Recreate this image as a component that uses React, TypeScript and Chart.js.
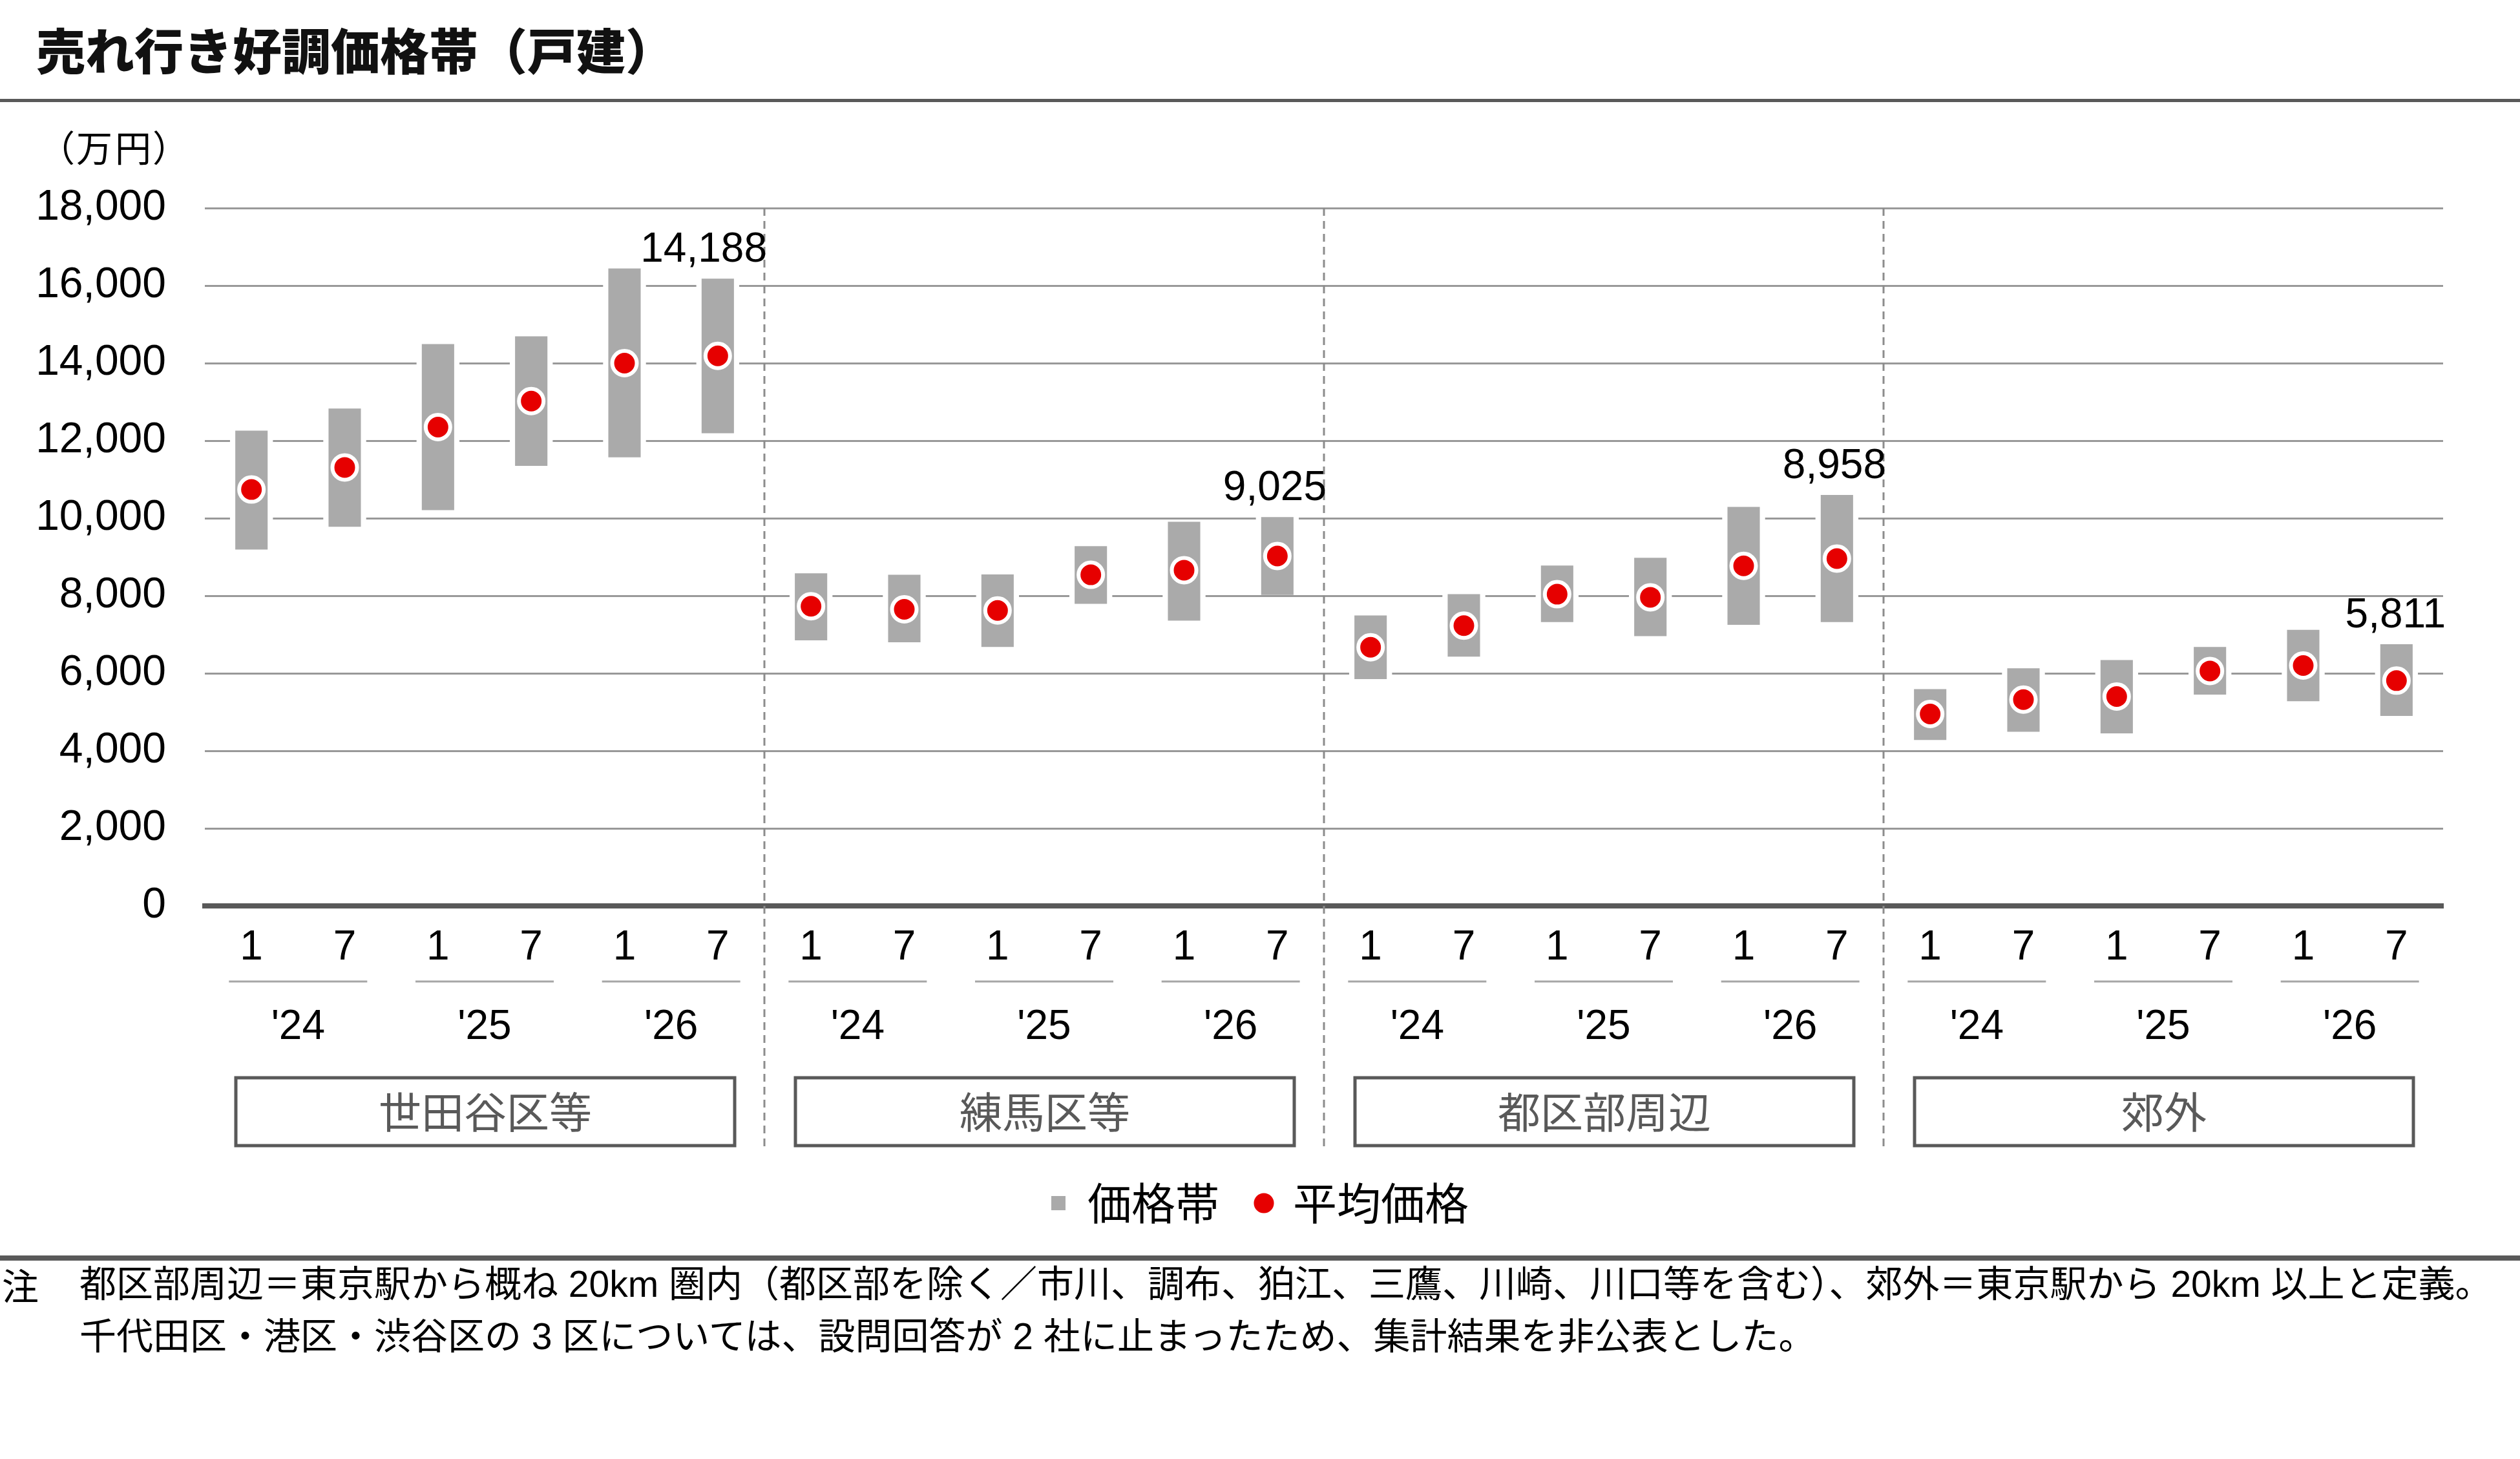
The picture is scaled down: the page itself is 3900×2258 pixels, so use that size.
import React, { useEffect, useRef } from 'react';
import { Chart, registerables } from 'chart.js';

Chart.register(...registerables);

// 半期ごとのカテゴリ(1月・7月)
const months = [
  '1', '7', '1', '7', '1', '7',
  '1', '7', '1', '7', '1', '7',
  '1', '7', '1', '7', '1', '7',
  '1', '7', '1', '7', '1', '7',
];
const yearLabels = ["'24", "'25", "'26"];
const groupLabels = ['世田谷区等', '練馬区等', '都区部周辺', '郊外'];

// 価格帯 (万円)
const priceLow = [
  9190, 9780, 10210, 11350, 11570, 12190,
  6850, 6800, 6680, 7790, 7360, 8020,
  5850, 6430, 7320, 6960, 7250, 7320,
  4280, 4490, 4450, 5450, 5280, 4900,
];
const priceHigh = [
  12260, 12830, 14490, 14690, 16440, 16180,
  8580, 8540, 8550, 9280, 9910, 10030,
  7490, 8040, 8780, 8980, 10290, 10600,
  5590, 6130, 6340, 6680, 7120, 6750,
];
// 平均価格 (万円)
const avgPrice = [
  10740, 11310, 12350, 13020, 14000, 14188,
  7730, 7650, 7620, 8540, 8660, 9025,
  6670, 7230, 8040, 7960, 8770, 8958,
  4950, 5320, 5400, 6060, 6200, 5811,
];

const LATIN = "'Liberation Sans', Arial, 'Noto Sans CJK JP', sans-serif";
const CJK = "'Noto Sans CJK JP', 'Liberation Sans', sans-serif";

const fmt = (v: number) => v.toLocaleString('en-US');

const decorPlugin = {
  id: 'decor',
  afterDraw(chart: Chart) {
    const { ctx, chartArea } = chart;
    const xs = chart.scales.x;
    const ys = chart.scales.y;
    const step = xs.getPixelForValue(1) - xs.getPixelForValue(0);
    const per = months.length / groupLabels.length;
    const base = chartArea.bottom;

    ctx.save();

    // グループ区切りの破線
    ctx.strokeStyle = '#8c8c8c';
    ctx.lineWidth = 3;
    ctx.setLineDash([12, 8]);
    for (let g = 1; g < groupLabels.length; g++) {
      const sx = xs.getPixelForValue(g * per) - step / 2;
      ctx.beginPath();
      ctx.moveTo(sx, chartArea.top);
      ctx.lineTo(sx, base + 378);
      ctx.stroke();
    }
    ctx.setLineDash([]);

    // 年ラベルと下線
    ctx.font = `64px ${LATIN}`;
    ctx.fillStyle = '#000';
    ctx.textAlign = 'center';
    ctx.textBaseline = 'middle';
    for (let p = 0; p < months.length / 2; p++) {
      const cx = (xs.getPixelForValue(2 * p) + xs.getPixelForValue(2 * p + 1)) / 2;
      ctx.strokeStyle = '#a6a6a6';
      ctx.lineWidth = 3;
      ctx.beginPath();
      ctx.moveTo(cx - 107, base + 117);
      ctx.lineTo(cx + 107, base + 117);
      ctx.stroke();
      ctx.fillText(yearLabels[p % yearLabels.length], cx, base + 188);
    }

    // 地域グループの枠
    ctx.font = `66px ${CJK}`;
    for (let g = 0; g < groupLabels.length; g++) {
      const left = xs.getPixelForValue(g * per) - step / 2 + 48;
      const right = xs.getPixelForValue(g * per + per - 1) + step / 2 - 46;
      ctx.strokeStyle = '#595959';
      ctx.lineWidth = 5;
      ctx.strokeRect(left, base + 266, right - left, 105);
      ctx.fillStyle = '#595959';
      ctx.fillText(groupLabels[g], (left + right) / 2, base + 319);
    }

    // 各グループ最新値のラベル
    ctx.font = `64px ${LATIN}`;
    ctx.fillStyle = '#000';
    ctx.textAlign = 'left';
    ctx.textBaseline = 'alphabetic';
    for (let g = 0; g < groupLabels.length; g++) {
      const i = g * per + per - 1;
      const text = fmt(avgPrice[i]);
      const w = ctx.measureText(text).width;
      const cx = xs.getPixelForValue(i);
      const limit = cx + step / 2 + 4;
      const left = Math.min(cx - w / 2, limit - w);
      ctx.fillText(text, left, ys.getPixelForValue(priceHigh[i]) - 26);
    }

    ctx.restore();
  },
};

export default function App() {
  const canvasRef = useRef<HTMLCanvasElement>(null);

  useEffect(() => {
    if (!canvasRef.current) return;
    const ranges = priceLow.map((l, i) => [l, priceHigh[i]]);

    const chart = new Chart(canvasRef.current, {
      type: 'bar',
      data: {
        labels: months,
        datasets: [
          {
            // 目盛線を途切れさせる白い縁
            type: 'bar',
            label: '',
            data: ranges as any,
            backgroundColor: '#ffffff',
            barPercentage: 0.46,
            categoryPercentage: 1,
            grouped: false,
            order: 2,
          },
          {
            type: 'bar',
            label: '価格帯',
            data: ranges as any,
            backgroundColor: '#aaaaaa',
            pointStyle: 'rect',
            barPercentage: 0.347,
            categoryPercentage: 1,
            grouped: false,
            order: 1,
          },
          {
            type: 'line',
            label: '平均価格',
            data: avgPrice,
            showLine: false,
            pointStyle: 'circle',
            pointRadius: 19,
            pointBorderWidth: 6,
            pointBackgroundColor: '#e60000',
            pointBorderColor: '#ffffff',
            backgroundColor: '#e60000',
            borderColor: '#ffffff',
            order: 0,
          },
        ],
      },
      options: {
        responsive: false,
        animation: false,
        locale: 'en-US',
        events: [],
        layout: { padding: { left: 0, right: 0, top: 322, bottom: 352 } },
        plugins: {
          tooltip: { enabled: false },
          legend: {
            position: 'bottom',
            labels: {
              font: { size: 68, family: CJK },
              color: '#000',
              usePointStyle: true,
              boxWidth: 22,
              boxHeight: 22,
              padding: 58,
              sort: (a: any, b: any) => a.datasetIndex - b.datasetIndex,
              generateLabels: (c: Chart) =>
                Chart.defaults.plugins.legend.labels
                  .generateLabels(c)
                  .filter((l) => l.datasetIndex !== 0)
                  .map((l) => ({ ...l, lineWidth: 0, strokeStyle: 'rgba(0,0,0,0)' })),
            },
          },
        },
        scales: {
          x: {
            type: 'category',
            offset: true,
            grid: { display: false, drawTicks: false },
            border: { color: '#595959', width: 8 },
            ticks: {
              font: { size: 64, family: LATIN },
              color: '#000',
              padding: 27,
              maxRotation: 0,
              autoSkip: false,
            },
            afterFit: (s: any) => {
              s.height = 368;
            },
          },
          y: {
            min: 0,
            max: 18000,
            ticks: {
              stepSize: 2000,
              font: { size: 66, family: LATIN },
              color: '#000',
              padding: 60,
            },
            grid: {
              color: (c: any) => (c.tick && c.tick.value === 0 ? 'rgba(0,0,0,0)' : '#999999'),
              lineWidth: 3,
              drawTicks: false,
            },
            border: { display: false },
            afterFit: (s: any) => {
              s.width = 317;
            },
          },
          yPad: {
            // 右余白用のダミー軸
            type: 'linear',
            position: 'right',
            display: true,
            grid: { display: false, drawTicks: false },
            border: { display: false },
            ticks: { display: false },
            afterFit: (s: any) => {
              s.width = 119;
            },
          },
        },
      },
      plugins: [decorPlugin],
    });

    return () => chart.destroy();
  }, []);

  return (
    <div
      style={{
        position: 'absolute',
        left: 0,
        top: 0,
        width: 3900,
        height: 2258,
        background: '#ffffff',
        overflow: 'hidden',
      }}
    >
      <canvas
        ref={canvasRef}
        width={3900}
        height={2258}
        style={{ position: 'absolute', left: 0, top: 0, width: 3900, height: 2258 }}
      />
      <div
        style={{
          position: 'absolute',
          left: 56,
          top: 37,
          font: `900 76px/76px ${CJK}`,
          color: '#111',
          whiteSpace: 'nowrap',
        }}
      >
        売れ行き好調価格帯（戸建）
      </div>
      <div style={{ position: 'absolute', left: 0, top: 153, width: 3900, height: 5, background: '#595959' }} />
      <div
        style={{
          position: 'absolute',
          left: 86,
          top: 198,
          font: `56px/56px ${CJK}`,
          fontFeatureSettings: '"palt"',
          letterSpacing: 4,
          color: '#000',
          whiteSpace: 'nowrap',
        }}
      >
        （万円）
      </div>
      <div style={{ position: 'absolute', left: 0, top: 1943, width: 3900, height: 8, background: '#595959' }} />
      <div
        style={{
          position: 'absolute',
          left: 3,
          top: 1947,
          font: `57px/81px ${CJK}`,
          color: '#000',
        }}
      >
        注
      </div>
      <div
        style={{
          position: 'absolute',
          left: 123,
          top: 1947,
          font: `57px/81px ${LATIN}`,
          color: '#000',
          whiteSpace: 'nowrap',
        }}
      >
        <div>都区部周辺＝東京駅から概ね 20km 圏内（都区部を除く／市川、調布、狛江、三鷹、川崎、川口等を含む）、郊外＝東京駅から 20km 以上と定義。</div>
        <div>千代田区・港区・渋谷区の 3 区については、設問回答が 2 社に止まったため、集計結果を非公表とした。</div>
      </div>
    </div>
  );
}
